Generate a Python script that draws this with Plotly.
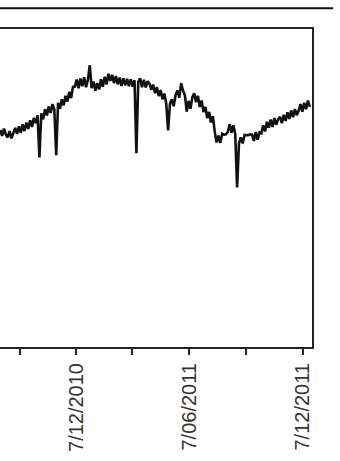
import pandas as pd
import plotly.graph_objects as go

# Observation dates: one reading every three days
dates = pd.date_range("2010-08-07", periods=167, freq="3D")

# Measured level (index units), read in blocks of ten
level = [
    68.3, 66.4, 68.7, 66.8, 65.9, 67.9, 65.6, 67.6, 68.9, 67.0,
    69.4, 67.3, 70.0, 67.9, 70.6, 68.6, 71.3, 69.2, 72.0, 70.4,
    72.9, 59.6, 73.5, 71.6, 74.8, 72.8, 75.6, 73.6, 76.4, 74.6,
    60.3, 76.8, 74.9, 77.9, 76.0, 79.0, 77.2, 80.2, 78.3, 81.8,
    81.9, 84.1, 81.4, 84.4, 82.0, 84.8, 81.7, 84.0, 88.6, 81.4,
    83.5, 80.6, 83.0, 81.0, 84.2, 81.8, 85.0, 82.6, 85.9, 83.7,
    85.6, 83.0, 85.2, 82.6, 84.7, 82.1, 84.5, 82.3, 84.3, 82.0,
    84.2, 81.9, 83.9, 60.9, 83.4, 84.5, 81.7, 84.0, 81.6, 83.6,
    82.8, 80.9, 82.5, 79.8, 81.7, 78.9, 80.8, 77.9, 79.7, 76.6,
    68.1, 76.5, 77.9, 75.7, 79.2, 80.7, 78.4, 83.0, 80.6, 79.2,
    74.0, 77.4, 74.9, 78.5, 79.8, 77.0, 79.0, 75.5, 77.5, 73.9,
    75.5, 72.0, 73.9, 70.6, 72.6, 67.8, 64.3, 66.5, 64.2, 67.1,
    66.8, 66.9, 67.6, 70.0, 67.4, 69.7, 67.0, 50.2, 64.0, 65.9,
    64.0, 66.7, 66.7, 66.6, 66.9, 66.8, 64.8, 67.6, 65.2, 67.5,
    67.2, 69.7, 67.8, 70.8, 69.0, 71.5, 69.2, 72.0, 69.9, 71.6,
    72.4, 70.4, 73.0, 71.1, 73.8, 71.7, 74.4, 72.3, 74.8, 72.9,
    74.3, 76.4, 74.0, 76.8, 74.8, 77.5, 75.5,
]

# Quarterly ticks; only every second one carries a label
tick_dates = ["2010-09-07", "2010-12-07", "2011-03-07",
              "2011-06-07", "2011-09-07", "2011-12-07"]
tick_labels = ["", "7/12/2010", "", "7/06/2011", "", "7/12/2011"]

fig = go.Figure()
fig.add_trace(go.Scatter(
    x=dates, y=level, mode="lines",
    line=dict(color="#111111", width=2.6),
    showlegend=False, hoverinfo="skip",
))

axis_color = "#222222"
fig.update_layout(
    width=340, height=461,
    margin=dict(l=0, r=28, t=29, b=114),
    paper_bgcolor="white", plot_bgcolor="white",
    font=dict(family="Liberation Sans, Arial, sans-serif", size=20, color="#333333"),
    xaxis=dict(
        type="date",
        range=["2010-08-06 14:00", "2011-12-21 12:00"],
        tickvals=tick_dates, ticktext=tick_labels,
        tickangle=-90,
        ticks="outside", ticklen=6, tickwidth=2, tickcolor=axis_color,
        showline=True, linecolor=axis_color, linewidth=2, mirror=True,
        showgrid=False, zeroline=False,
    ),
    yaxis=dict(
        range=[0, 100], side="right",
        showticklabels=False, ticks="",
        showline=True, linecolor=axis_color, linewidth=2,
        showgrid=False, zeroline=False,
    ),
    shapes=[dict(
        type="line", xref="paper", yref="paper",
        x0=0, x1=1.068, y0=1.065, y1=1.065,
        line=dict(color="#111111", width=2),
    )],
)

fig.write_html("out.html")
